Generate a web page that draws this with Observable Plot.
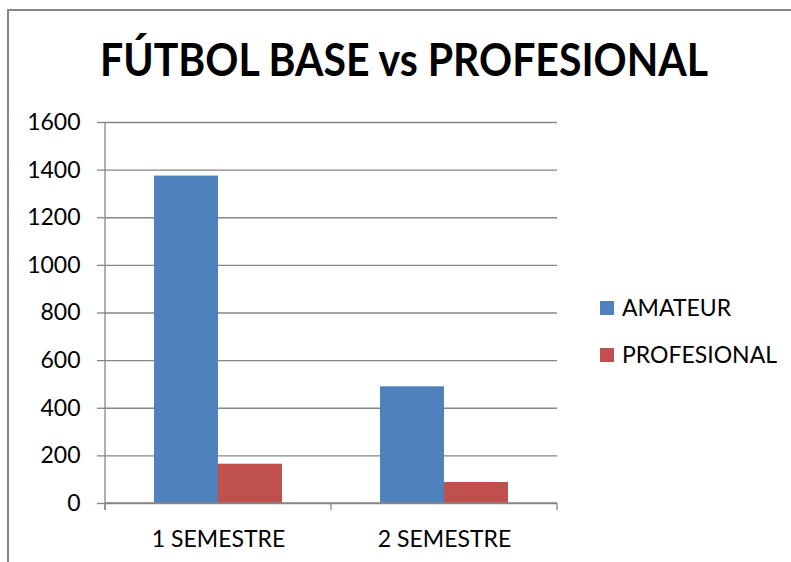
<!DOCTYPE html>
<html>
<head>
<meta charset="utf-8">
<script src="https://cdn.jsdelivr.net/npm/d3@7"></script>
<script src="https://cdn.jsdelivr.net/npm/@observablehq/plot@0.6"></script>
<style>
  html, body { margin: 0; padding: 0; background: #fff; }
  #wrap { position: relative; width: 791px; height: 562px; overflow: hidden; font-family: Lato, "Open Sans", sans-serif; }
  #border { position: absolute; left: 7px; top: 9px; width: 900px; height: 700px; border-left: 2px solid #868686; border-top: 2px solid #868686; }
  #title { position: absolute; left: 0; top: 36px; width: 808px; text-align: center; font: bold 46px/46px Lato, "Open Sans", sans-serif; color: #000; white-space: nowrap; }
  #title span { display: inline-block; transform-origin: 50% 50%; }
  #chart { position: absolute; left: 0; top: 100px; }
  .leg { position: absolute; left: 600px; font: 23px/23px Lato, "Open Sans", sans-serif; color: #000; white-space: nowrap; }
  .leg i { position: absolute; left: 0; top: 0; width: 14px; height: 14px; }
  .leg span { position: absolute; left: 22px; top: -5px; }
</style>
</head>
<body>
<div id="wrap">
  <div id="border"></div>
  <div id="title"><span id="titletext">FÚTBOL BASE vs PROFESIONAL</span></div>
  <div id="chart"></div>
  <div id="legend"></div>
</div>
<script>
const categories = ["1 SEMESTRE", "2 SEMESTRE"];
const series = ["AMATEUR", "PROFESIONAL"];
const amateur = [1375, 490];
const profesional = [165, 88];
const yTicks = [0, 200, 400, 600, 800, 1000, 1200, 1400, 1600];
const colors = ["#4F81BD", "#C0504D"];

const rows = [];
categories.forEach((c, i) => {
  rows.push({semestre: c, serie: series[0], value: amateur[i]});
  rows.push({semestre: c, serie: series[1], value: profesional[i]});
});

const grey = "#868686";

const plot = Plot.plot({
  width: 600,
  height: 462,
  marginLeft: 105,
  marginRight: 43,
  marginTop: 22,
  marginBottom: 59,
  style: {fontFamily: "Lato, 'Open Sans', sans-serif", fontSize: "23px", background: "transparent", color: "#000"},
  fx: {domain: categories, padding: 0, label: null},
  x: {domain: series, paddingInner: 0, paddingOuter: 0.75, axis: null},
  y: {domain: [0, 1600], label: null},
  color: {domain: series, range: colors},
  marks: [
    Plot.ruleY(yTicks, {stroke: grey, strokeWidth: 1.3}),
    Plot.barY(rows, {fx: "semestre", x: "serie", y: "value", fill: "serie"}),
    Plot.axisY({ticks: yTicks, tickSize: 8, tickPadding: 17, stroke: grey, strokeWidth: 1.3, fill: "#000", label: null, tickFormat: d => String(d)}),
    Plot.axisFx({anchor: "bottom", tickSize: 0, tickPadding: 27, fill: "#000", label: null})
  ]
});
document.getElementById("chart").appendChild(plot);

// axis line and category boundary ticks derived from the plot's own scales
(function () {
  const fxS = plot.scale("fx");
  const yS = plot.scale("y");
  const band = d3.scaleBand(fxS.domain, fxS.range)
    .paddingInner(fxS.paddingInner ?? 0)
    .paddingOuter(fxS.paddingOuter ?? 0);
  const yLin = d3.scaleLinear(yS.domain, yS.range);
  const y0 = yLin(0), yTop = yLin(d3.max(yTicks));
  const edges = fxS.domain.map(d => band(d));
  edges.push(band(fxS.domain[fxS.domain.length - 1]) + band.bandwidth());
  const g = d3.select(plot).append("g").attr("stroke", grey).attr("stroke-width", 1.3);
  g.append("line").attr("x1", edges[0]).attr("x2", edges[0]).attr("y1", yTop).attr("y2", y0 + 7);
  g.append("line").attr("x1", edges[0]).attr("x2", edges[edges.length - 1]).attr("y1", y0).attr("y2", y0);
  edges.forEach(e => g.append("line").attr("x1", e).attr("x2", e).attr("y1", y0).attr("y2", y0 + 7));
})();

// legend
const legend = document.getElementById("legend");
series.forEach((s, i) => {
  const d = document.createElement("div");
  d.className = "leg";
  d.style.top = (301 + i * 47) + "px";
  d.innerHTML = `<i style="background:${colors[i]}"></i><span>${s}</span>`;
  legend.appendChild(d);
});

// title width fit
const tt = document.getElementById("titletext");
const w = tt.getBoundingClientRect().width;
tt.style.transform = `scaleX(${608 / w})`;
</script>
</body>
</html>
